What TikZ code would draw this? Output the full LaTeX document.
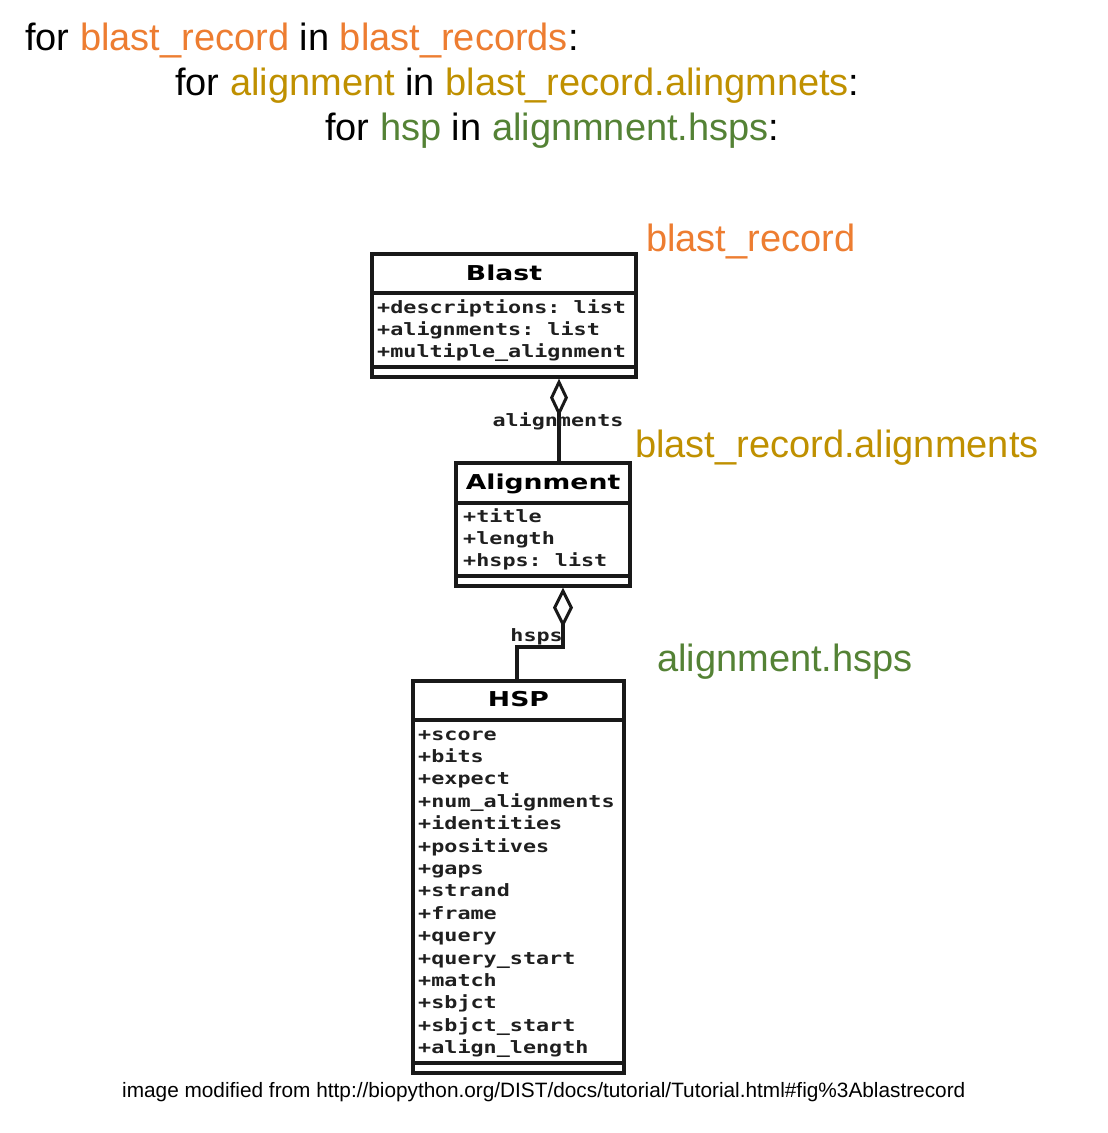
\documentclass[tikz,border=0pt]{standalone}
\usepackage{fontspec}
\setmainfont{Liberation Sans}
\newfontfamily\umltitlefont{DejaVu Sans}[FakeStretch=1.3]
\newfontfamily\umlmonofont{DejaVu Sans Mono}[FakeStretch=1.28]
\usetikzlibrary{arrows.meta}
\definecolor{corange}{HTML}{ED7D31}
\definecolor{cgold}{HTML}{BF9000}
\definecolor{cgreen}{HTML}{548235}
\frenchspacing
\tikzset{
  toptext/.style={anchor=base west,inner sep=0pt,font=\fontsize{38}{45}\selectfont},
  umlbox/.style={draw=black!90,line width=3.3pt,inner sep=0pt},
  umlline/.style={draw=black!90,line width=3.3pt},
  umltitle/.style={anchor=base,inner sep=0pt,font=\umltitlefont\bfseries\fontsize{20.5}{24}\selectfont,text=black},
  umlattr/.style={anchor=base west,inner sep=0pt,font=\umlmonofont\bfseries\fontsize{17}{20}\selectfont,text=black!88},
  conn/.style={draw=black!90,line width=3.3pt},
  agg/.style={{Diamond[open,length=38pt,width=18pt,line width=3pt]}-},
}
\begin{document}
\begin{tikzpicture}[x=1pt,y=-1pt]
\useasboundingbox (0,0) rectangle (1108,1133);

% top code lines
\node[toptext] (l1) at (25,50) {for \textcolor{corange}{blast\_record} in \textcolor{corange}{blast\_records}:};
\node[toptext] (l2) at (175,95) {for \textcolor{cgold}{alignment} in \textcolor{cgold}{blast\_record.alingmnets}:};
\node[toptext] (l3) at (325,140) {for \textcolor{cgreen}{hsp} in \textcolor{cgreen}{alignmnent.hsps}:};

% side labels
\node[toptext,text=corange] (lab1) at (646,251) {blast\_record};
\node[toptext,text=cgold] (lab2) at (635,457) {blast\_record.alignments};
\node[toptext,text=cgreen] (lab3) at (657,671) {alignment.hsps};

% Blast box
\node[umlbox,minimum width=264pt,minimum height=123pt] (blast) at (504,315.5) {};
\draw[umlline] (blast.west |- 0,293) -- (blast.east |- 0,293);
\draw[umlline] (blast.west |- 0,367) -- (blast.east |- 0,367);
\node[umltitle] (blastt) at (504,280) {Blast};
\foreach \t [count=\i from 0] in {+descriptions: list,+alignments: list,+multiple\_alignment}
  \node[umlattr] (blasta\i) at (377,313+22.2*\i) {\t};

% Alignment box
\node[umlbox,minimum width=174pt,minimum height=123pt] (align) at (543,524.5) {};
\draw[umlline] (align.west |- 0,503) -- (align.east |- 0,503);
\draw[umlline] (align.west |- 0,576) -- (align.east |- 0,576);
\node[umltitle] (alignt) at (543,489) {Alignment};
\foreach \t [count=\i from 0] in {+title,+length,+hsps: list}
  \node[umlattr] (aligna\i) at (463,522+22.3*\i) {\t};

% HSP box
\node[umlbox,minimum width=211pt,minimum height=392pt] (hsp) at (518.5,877) {};
\draw[umlline] (hsp.west |- 0,720) -- (hsp.east |- 0,720);
\draw[umlline] (hsp.west |- 0,1063) -- (hsp.east |- 0,1063);
\node[umltitle] (hspt) at (518.5,706) {HSP};
\foreach \t [count=\i from 0] in {+score,+bits,+expect,+num\_alignments,+identities,+positives,+gaps,+strand,+frame,+query,+query\_start,+match,+sbjct,+sbjct\_start,+align\_length}
  \node[umlattr] (hspa\i) at (418,740+22.4*\i) {\t};

% connectors
\coordinate (c1) at (559,0);
\draw[conn,agg] (blast.south -| c1) -- (align.north -| c1);
\node[umlattr,anchor=base] (alab) at (558,426) {alignments};

\coordinate (c2) at (563,0);
\coordinate (bend) at (563,647);
\coordinate (c3) at (517,647);
\draw[conn,{Diamond[open,length=40pt,width=20pt,line width=3pt]}-] (align.south -| c2) -- (bend) -- (c3) -- (hsp.north -| c3);
\node[umlattr,anchor=base east] (hlab) at (563,641) {hsps};

% footer
\node[anchor=base west,inner sep=0pt] (foot) at (122,1097) {\resizebox{843pt}{!}{image modified from http://biopython.org/DIST/docs/tutorial/Tutorial.html\#fig\%3Ablastrecord}};
\end{tikzpicture}
\end{document}
